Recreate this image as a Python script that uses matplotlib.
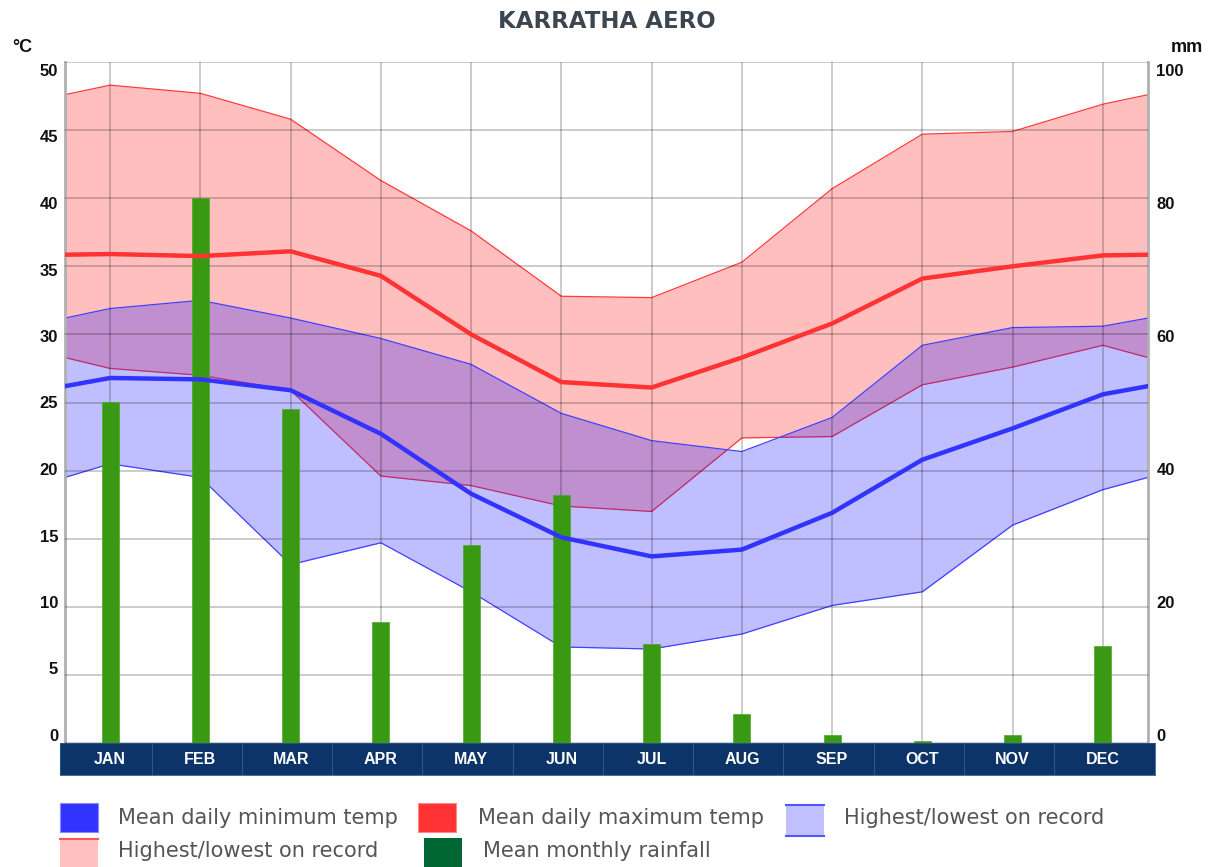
import matplotlib
matplotlib.use("Agg")
import matplotlib.pyplot as plt
import matplotlib.transforms as mtransforms
from matplotlib.patches import Rectangle
from matplotlib.lines import Line2D

# ---------------- data ----------------
months = ["JAN", "FEB", "MAR", "APR", "MAY", "JUN", "JUL", "AUG", "SEP", "OCT", "NOV", "DEC"]
mean_max = [35.9, 35.75, 36.1, 34.3, 30.0, 26.5, 26.1, 28.3, 30.8, 34.1, 35.0, 35.8]
mean_max_edge = 35.85
mean_min = [26.8, 26.7, 25.9, 22.7, 18.3, 15.1, 13.7, 14.2, 16.9, 20.8, 23.1, 25.6]
mean_min_edge = 26.2
highest_max = [48.3, 47.7, 45.8, 41.3, 37.6, 32.8, 32.7, 35.3, 40.7, 44.7, 44.9, 46.9]
highest_max_edge = 47.6
lowest_max = [27.5, 27.0, 25.9, 19.6, 18.9, 17.4, 17.0, 22.4, 22.5, 26.3, 27.6, 29.2]
lowest_max_edge = 28.3
highest_min = [31.9, 32.5, 31.2, 29.7, 27.8, 24.2, 22.2, 21.4, 23.9, 29.2, 30.5, 30.6]
highest_min_edge = 31.2
lowest_min = [20.5, 19.5, 13.1, 14.7, 11.1, 7.05, 6.9, 8.0, 10.1, 11.1, 16.0, 18.6]
lowest_min_edge = 19.5
rainfall = [50.1, 80.0, 49.0, 17.7, 29.1, 36.4, 14.5, 4.3, 1.2, 0.3, 1.2, 14.3]

temp_ticks = [0, 5, 10, 15, 20, 25, 30, 35, 40, 45, 50]
rain_ticks = [0, 20, 40, 60, 80, 100]
title = "KARRATHA AERO"
legend_labels = ["Mean daily minimum temp", "Mean daily maximum temp", "Highest/lowest on record",
                 "Highest/lowest on record", "Mean monthly rainfall"]

# ---------------- helpers ----------------
def with_edges(vals, edge):
    return [edge] + list(vals) + [edge]

n = len(months)
xc = [i + 0.5 for i in range(n)]
xs = [0] + xc + [n]

W, H = 1219, 867
fig = plt.figure(figsize=(W / 100, H / 100), dpi=100)

def fx(px):
    return px / W

def fy(py):
    return 1 - py / H

L, R, T, B = 65, 1148, 62, 743
ax = fig.add_axes([fx(L), fy(B), fx(R - L), fy(T) - fy(B)])
ax.set_xlim(0, n)
ax.set_ylim(0, 50)

RED = "#ff3333"
BLUE = "#3333ff"
TICKFONT = "Liberation Sans"

# red band
hm = with_edges(highest_max, highest_max_edge)
lm = with_edges(lowest_max, lowest_max_edge)
ax.fill_between(xs, lm, hm, color=(1, 0, 0, 0.25), lw=0, zorder=1)
ax.plot(xs, hm, color="#ff3a3a", lw=0.9, zorder=1.5)
ax.plot(xs, lm, color="#ff3a3a", lw=0.9, zorder=1.5)
# blue band
hn = with_edges(highest_min, highest_min_edge)
ln = with_edges(lowest_min, lowest_min_edge)
ax.fill_between(xs, ln, hn, color=(0, 0, 1, 0.25), lw=0, zorder=2)
ax.plot(xs, hn, color="#4040ff", lw=0.9, zorder=2.5)
ax.plot(xs, ln, color="#4040ff", lw=0.9, zorder=2.5)

# grid
ax.set_xticks(xc)
ax.set_yticks(temp_ticks)
ax.grid(True, color="black", alpha=0.2, lw=1.4, zorder=3)
ax.set_axisbelow(False)
for gl in ax.get_xgridlines() + ax.get_ygridlines():
    gl.set_zorder(3)
ax.tick_params(axis="x", length=0, labelbottom=False)
ax.tick_params(axis="y", length=0, labelsize=12, pad=5, labelcolor="#111111")
for v, lab in zip(temp_ticks, ax.get_yticklabels()):
    lab.set_fontweight("bold")
    lab.set_family(TICKFONT)
    off = (-8 + 16 * v / 50) / 100.0
    lab.set_transform(lab.get_transform() + mtransforms.ScaledTranslation(0, -off, fig.dpi_scale_trans))
for s in ["top", "bottom"]:
    ax.spines[s].set_visible(False)
for s in ["left", "right"]:
    ax.spines[s].set_color("#b0b0b0")
    ax.spines[s].set_linewidth(2)

# rainfall axis
ax2 = ax.twinx()
ax2.set_ylim(0, 100)
ax2.set_xlim(0, n)
ax2.bar(xc, rainfall, width=0.19, color="#3a9912", edgecolor="#4aa828", lw=0.5, zorder=4)
ax2.set_yticks(rain_ticks)
ax2.tick_params(axis="y", length=0, labelsize=12, pad=6, labelcolor="#111111")
for v, lab in zip(rain_ticks, ax2.get_yticklabels()):
    lab.set_fontweight("bold")
    lab.set_family(TICKFONT)
    off = (-8 + 16 * v / 100) / 100.0
    lab.set_transform(lab.get_transform() + mtransforms.ScaledTranslation(0, -off, fig.dpi_scale_trans))
for s in ax2.spines.values():
    s.set_visible(False)

# thick mean lines on top
ax3 = fig.add_axes(ax.get_position(), sharex=ax)
ax3.set_ylim(0, 50)
ax3.patch.set_visible(False)
ax3.axis("off")
ax3.plot(xs, with_edges(mean_max, mean_max_edge), color=RED, lw=3.2, solid_joinstyle="round", zorder=5)
ax3.plot(xs, with_edges(mean_min, mean_min_edge), color=BLUE, lw=3.2, solid_joinstyle="round", zorder=5)

# month band
BL, BR, BT, BB = 60, 1155, 743, 775
axb = fig.add_axes([fx(BL), fy(BB), fx(BR - BL), fy(BT) - fy(BB)])
px_per = (R - L) / n
axb.set_xlim(-(L - BL) / px_per, n + (BR - R) / px_per)
axb.set_ylim(0, 1)
axb.set_facecolor("#0c3468")
axb.set_xticks([])
axb.set_yticks([])
for s in axb.spines.values():
    s.set_color("#2a5590")
    s.set_linewidth(0.6)
for i in range(1, n):
    axb.axvline(i - 0.04, color="#2a5590", lw=0.8)
for x, m in zip(xc, months):
    axb.text(x, 0.47, m, color="white", fontsize=11.5, fontweight="bold", ha="center", va="center",
             family=TICKFONT)

# title and units
fig.text(fx(607), fy(21), title, ha="center", va="center", fontsize=16.5, fontweight="bold",
         color="#3c4650", family="DejaVu Sans")
fig.text(fx(22), fy(47), "°C", ha="center", va="center", fontsize=13, fontweight="bold",
         color="#111111", family=TICKFONT)
fig.text(fx(1187), fy(47), "mm", ha="center", va="center", fontsize=13, fontweight="bold",
         color="#111111", family=TICKFONT)

# legend (manual)
LF = "DejaVu Sans"
LS = 15.0
LC = "#555555"
def sq(x0, y0, w, h, fc, ec=None, lw=0.0):
    fig.patches.append(Rectangle((fx(x0), fy(y0 + h)), fx(w), fy(y0) - fy(y0 + h), transform=fig.transFigure,
                                 facecolor=fc, edgecolor=ec if ec else fc, lw=lw))

def hline(x0, x1, y, color, lw=1.5):
    fig.lines.append(Line2D([fx(x0), fx(x1)], [fy(y), fy(y)], transform=fig.transFigure, color=color, lw=lw))

sq(60, 803, 38, 29, "#3333ff", "#8888ff", 0.8)
fig.text(fx(118), fy(818), legend_labels[0], fontsize=LS, color=LC, va="center", family=LF)
sq(418, 803, 38, 29, "#ff3333", "#ff8888", 0.8)
fig.text(fx(478), fy(818), legend_labels[1], fontsize=LS, color=LC, va="center", family=LF)
sq(786, 805, 38, 31, "#c0c0ff")
hline(786, 824, 805, "#5555ff")
hline(786, 824, 836, "#5555ff")
fig.text(fx(844), fy(818), legend_labels[2], fontsize=LS, color=LC, va="center", family=LF)
sq(60, 838, 38, 30, "#ffc0c0")
hline(60, 98, 838.5, "#ff5555")
fig.text(fx(118), fy(851), legend_labels[3], fontsize=LS, color=LC, va="center", family=LF)
sq(424, 838, 38, 30, "#006633")
fig.text(fx(483), fy(851), legend_labels[4], fontsize=LS, color=LC, va="center", family=LF)

fig.savefig("out.png", dpi=100)
